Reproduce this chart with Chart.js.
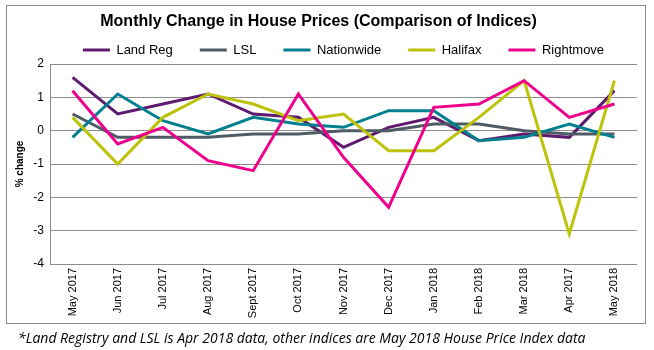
<!DOCTYPE html>
<html>
<head>
<meta charset="utf-8">
<script src="https://cdn.jsdelivr.net/npm/chart.js@4.4.1/dist/chart.umd.min.js"></script>
<style>
  html, body { margin: 0; padding: 0; background: #fff; }
  #wrap { width: 654px; height: 350px; position: relative; }
</style>
</head>
<body>
<div id="wrap"><canvas id="c" width="654" height="350"></canvas></div>
<script>
// ---- data ----
const categories = ['May 2017','Jun 2017','Jul 2017','Aug 2017','Sept 2017','Oct 2017','Nov 2017','Dec 2017','Jan 2018','Feb 2018','Mar 2018','Apr 2017','May 2018'];
const landReg    = [1.6, 0.5, 0.8, 1.1, 0.5, 0.4, -0.5, 0.1, 0.4, -0.3, -0.1, -0.2, 1.2];
const lsl        = [0.5, -0.2, -0.2, -0.2, -0.1, -0.1, 0.0, 0.0, 0.2, 0.2, 0.0, -0.1, -0.1];
const nationwide = [-0.2, 1.1, 0.3, -0.1, 0.4, 0.2, 0.1, 0.6, 0.6, -0.3, -0.2, 0.2, -0.2];
const halifax    = [0.4, -1.0, 0.4, 1.1, 0.8, 0.3, 0.5, -0.6, -0.6, 0.4, 1.5, -3.1, 1.5];
const rightmove  = [1.2, -0.4, 0.1, -0.9, -1.2, 1.1, -0.8, -2.3, 0.7, 0.8, 1.5, 0.4, 0.8];
const seriesNames = ['Land Reg', 'LSL', 'Nationwide', 'Halifax', 'Rightmove'];
const yTicks = [2, 1, 0, -1, -2, -3, -4];
const chartTitle = 'Monthly Change in House Prices (Comparison of Indices)';
const yTitle = '% change';
const footnote = '*Land Registry and LSL is Apr 2018 data, other indices are May 2018 House Price Index data';

// ---- styles ----
const colors = ['#5E1A6E', '#4E5A64', '#00808E', '#BDC20A', '#EC008C'];
const seriesData = [landReg, lsl, nationwide, halifax, rightmove];
const gridColor = '#8C8C8C';

const datasets = seriesNames.map((name, i) => ({
  label: name,
  data: seriesData[i],
  borderColor: colors[i],
  backgroundColor: colors[i],
  borderWidth: 3,
  pointRadius: 0,
  pointHoverRadius: 0,
  tension: 0,
  fill: false,
  order: seriesNames.length - i
}));

const framePlugin = {
  id: 'frame',
  afterDraw(chart) {
    const ctx = chart.ctx;
    ctx.save();
    ctx.strokeStyle = '#8C8C8C';
    ctx.lineWidth = 1;
    ctx.strokeRect(6.5, 5.5, 639, 318);
    ctx.fillStyle = '#000';
    ctx.font = 'italic 14px "Open Sans"';
    ctx.textBaseline = 'middle';
    ctx.textAlign = 'left';
    ctx.fillText(footnote, 18, 339);
    ctx.restore();
  }
};

Chart.defaults.font.family = '"Liberation Sans", Arial, sans-serif';
Chart.defaults.color = '#000';

new Chart(document.getElementById('c'), {
  type: 'line',
  data: { labels: categories, datasets },
  plugins: [framePlugin],
  options: {
    responsive: false,
    animation: false,
    devicePixelRatio: 1,
    layout: { padding: { left: 0, right: 17, top: 0, bottom: 0 } },
    plugins: {
      tooltip: { enabled: false },
      title: {
        display: true,
        text: chartTitle,
        font: { size: 16, weight: 'bold' },
        color: '#000',
        padding: { top: 12.4, bottom: -15.1 }
      },
      legend: {
        display: true,
        fullSize: false,
        maxHeight: 47.5,
        labels: {
          usePointStyle: true,
          pointStyle: 'line',
          pointStyleWidth: 27,
          padding: 27,
          font: { size: 13 },
          color: '#000',
          sort: (a, b) => a.datasetIndex - b.datasetIndex
        }
      }
    },
    scales: {
      x: {
        type: 'category',
        offset: true,
        grid: { display: false, drawTicks: false },
        border: { display: false },
        ticks: {
          autoSkip: false,
          minRotation: 90,
          maxRotation: 90,
          padding: 4,
          font: { size: 11 },
          color: '#000'
        },
        afterFit: (s) => { s.height = 86; }
      },
      y: {
        min: -4,
        max: 2,
        afterBuildTicks: (s) => { s.ticks = yTicks.map(v => ({ value: v })); },
        grid: { color: gridColor, lineWidth: 1, drawTicks: false },
        border: { display: true, color: gridColor, width: 1 },
        ticks: { padding: 6, font: { size: 12 }, color: '#000' },
        title: {
          display: true,
          text: yTitle,
          font: { size: 10, weight: 'bold' },
          color: '#000',
          padding: { top: 14, bottom: 0 }
        },
        afterFit: (s) => { s.width = 50; }
      }
    }
  }
});
</script>
</body>
</html>
